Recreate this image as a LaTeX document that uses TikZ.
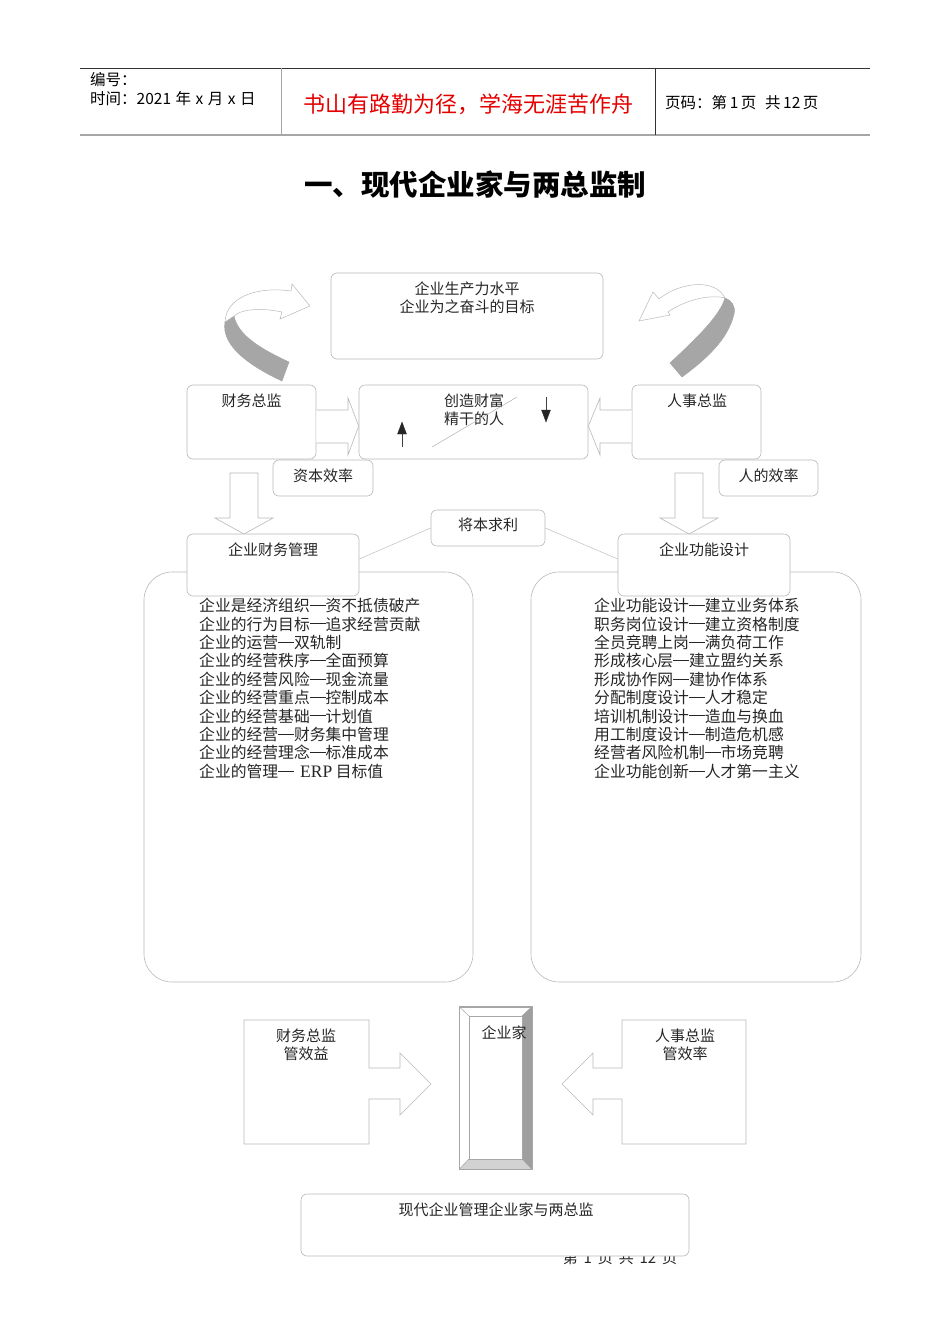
\documentclass[tikz,border=0pt]{standalone}
\usepackage{fontspec}
\usetikzlibrary{arrows.meta}
\setmainfont{Noto Sans CJK SC}
\newfontfamily\serifen{Liberation Serif}
\newcommand\fdash{\rule[0.36em]{1em}{0.06em}}
\newcommand\hsp{\hspace{4.5pt}}
\begin{document}
\begin{tikzpicture}[x=1pt,y=-1pt,
  rbox/.style={draw=gray!55, rounded corners=6pt, fill=white, line width=0.6pt, inner sep=0pt},
  blockarrow/.style={draw=gray!55, fill=white, line width=0.6pt, line join=miter},
  txt/.style={inner sep=0pt, font=\fontsize{15}{18}\selectfont, text=black!85},
  hdr/.style={inner sep=0pt, font=\fontsize{15.5}{18}\selectfont, text=black},
  lst/.style={inner sep=0pt, align=left, anchor=north west, font=\fontsize{15.8}{18.4}\selectfont, text=black!85},
  thinline/.style={draw=gray!50, line width=0.5pt},
  tip/.style={fill=black!85, draw=black!85, line width=0.3pt, line join=miter}
]
\useasboundingbox (0,0) rectangle (950,1344);
\fill[white] (0,0) rectangle (950,1344);

% ---------- header ----------
\coordinate (htl) at (80,68);
\coordinate (htr) at (870,68);
\coordinate (hbl) at (80,135);
\coordinate (hbr) at (870,135);
\draw[line width=0.8pt, black!80] (htl) -- (htr);
\draw[line width=1.8pt, gray!70] (hbl) -- (hbr);
\draw[line width=0.8pt, gray!70] (281,68) -- (281,135);
\draw[line width=0.8pt, black!80] (655,68) -- (655,135);
\node[hdr, anchor=west] (hno) at (90,80) {编号：};
\node[hdr, anchor=west] (htime) at (90,99) {时间：2021\hsp 年\hsp x\hsp 月\hsp x\hsp 日};
\node[inner sep=0pt, font=\fontsize{22}{24}\selectfont, text=red!90!black] (motto) at (468,104) {书山有路勤为径，学海无涯苦作舟};
\node[hdr, anchor=west] (hpage) at (665,103) {页码：第\,1\,页\,\, 共\,12\,页};

% ---------- title ----------
\node[inner sep=0pt, font=\bfseries\fontsize{28.5}{32}\selectfont] (title) at (475,185) {一、现代企业家与两总监制};

% ---------- curved arrows ----------
% left
\draw[draw=gray!70, fill=gray!70, line width=0.5pt] (225,322) .. controls (221,346) and (250,366) .. (282,381) -- (289,362) .. controls (263,350) and (238,336) .. (234,316) -- cycle;
\draw[draw=gray!55, fill=white, line width=0.5pt] (225,322) .. controls (226,298) and (255,286) .. (291,291) -- (292,284) -- (310,306) -- (280,319) -- (282,312) .. controls (258,307) and (240,310) .. (234,316) -- cycle;
% right
\draw[draw=gray!70, fill=gray!70, line width=0.5pt] (670,363) .. controls (700,335) and (720,315) .. (725,298) .. controls (731,300) and (736,306) .. (734,314) .. controls (728,340) and (705,360) .. (682,377) -- cycle;
\draw[draw=gray!55, fill=white, line width=0.5pt] (725,298) .. controls (715,278) and (680,282) .. (659,299) -- (653,292) -- (639,321) -- (670,315) -- (668,312) .. controls (685,300) and (710,294) .. (725,298) -- cycle;

% ---------- top boxes ----------
\node[rbox, minimum width=272pt, minimum height=86pt] (goal) at (467,316) {};
\node[txt, align=center] (goalt) at (467,298) {企业生产力水平\\企业为之奋斗的目标};

\node[rbox, minimum width=129pt, minimum height=74pt] (cfo) at (251.5,422) {};
\node[txt] (cfot) at (251.5,401) {财务总监};

\node[rbox, minimum width=229pt, minimum height=74pt] (wealth) at (473.5,422) {};
\node[txt, align=center] (wealtht) at (474,410) {创造财富\\精干的人};

\node[rbox, minimum width=129pt, minimum height=74pt] (hr) at (696.5,422) {};
\node[txt] (hrt) at (697,401) {人事总监};

% inner marks in wealth box
\draw[gray!60, line width=0.5pt] (432,447) -- (517,397);
\draw[black!75, line width=0.5pt] (402,447) -- (402,433);
\draw[tip] (397.5,434) -- (406.5,434) -- (402,422) -- cycle;
\draw[black!75, line width=0.5pt] (546,397) -- (546,411);
\draw[tip] (541.5,410) -- (550.5,410) -- (546,422) -- cycle;

% block arrows to wealth box
\draw[blockarrow] (cfo.east |- 0,410) -- (348,410) -- (348,398) -- (wealth.west |- 0,426) -- (348,455) -- (348,443) -- (cfo.east |- 0,443);
\draw[blockarrow] (hr.west |- 0,410) -- (600,410) -- (600,398) -- (wealth.east |- 0,426) -- (600,455) -- (600,443) -- (hr.west |- 0,443);

% efficiency labels
\node[rbox, minimum width=100pt, minimum height=36pt] (capeff) at (323,478) {};
\node[txt] (capefft) at (323,476) {资本效率};
\node[rbox, minimum width=99pt, minimum height=36pt] (hreff) at (768.5,478) {};
\node[txt] (hrefft) at (768.5,476) {人的效率};

% ---------- big list boxes ----------
\node[draw=gray!55, fill=white, line width=0.6pt, rounded corners=28pt, minimum width=329pt, minimum height=410pt, inner sep=0pt] (finlist) at (308.5,777) {};
\node[draw=gray!55, fill=white, line width=0.6pt, rounded corners=28pt, minimum width=330pt, minimum height=410pt, inner sep=0pt] (hrlist) at (696,777) {};

% down block arrows
\draw[blockarrow] (230,473) -- (258,473) -- (258,518) -- (273,518) -- (244,534) -- (215,518) -- (230,518) -- cycle;
\draw[blockarrow] (675,473) -- (703,473) -- (703,518) -- (718,518) -- (689,534) -- (660,518) -- (675,518) -- cycle;

% management boxes
\node[rbox, minimum width=172pt, minimum height=62pt] (finmgmt) at (273,565) {};
\node[txt] (finmgmtt) at (273,550) {企业财务管理};
\node[rbox, minimum width=172pt, minimum height=62pt] (funcdes) at (704,565) {};
\node[txt] (funcdest) at (704,550) {企业功能设计};

\node[rbox, minimum width=114pt, minimum height=36pt] (profit) at (488,528) {};
\node[txt] (profitt) at (488,525) {将本求利};
\draw[thinline] (finmgmt.east |- 0,559) -- (profit.west);
\draw[thinline] (profit.east) -- (funcdes.west |- 0,559);

% lists
\node[lst] (finitems) at (199,598) {企业是经济组织\fdash 资不抵债破产\\企业的行为目标\fdash 追求经营贡献\\企业的运营\fdash 双轨制\\企业的经营秩序\fdash 全面预算\\企业的经营风险\fdash 现金流量\\企业的经营重点\fdash 控制成本\\企业的经营基础\fdash 计划值\\企业的经营\fdash 财务集中管理\\企业的经营理念\fdash 标准成本\\企业的管理\fdash\, {\serifen\fontsize{17.5}{18}\selectfont ERP} 目标值};
\node[lst] (hritems) at (594,598) {企业功能设计\fdash 建立业务体系\\职务岗位设计\fdash 建立资格制度\\全员竞聘上岗\fdash 满负荷工作\\形成核心层\fdash 建立盟约关系\\形成协作网\fdash 建协作体系\\分配制度设计\fdash 人才稳定\\培训机制设计\fdash 造血与换血\\用工制度设计\fdash 制造危机感\\经营者风险机制\fdash 市场竞聘\\企业功能创新\fdash 人才第一主义};

% ---------- bottom section ----------
\node[draw=gray!70, fill=white, line width=0.6pt, minimum width=72pt, minimum height=162pt, inner sep=0pt] (ent) at (495.5,1088) {};
\coordinate (ei1) at (469,1016);
\coordinate (ei2) at (522,1016);
\coordinate (ei3) at (522,1159);
\coordinate (ei4) at (469,1159);
\fill[gray!75] (ent.north east) -- (ent.south east) -- (ei3) -- (ei2) -- cycle;
\fill[gray!35] (ent.south west) -- (ent.south east) -- (ei3) -- (ei4) -- cycle;
\draw[gray!70, line width=0.5pt] (ei1) -- (ei2) -- (ei3) -- (ei4) -- cycle;
\draw[gray!70, line width=0.5pt] (ei1) -- (ent.north west) (ei2) -- (ent.north east) (ei3) -- (ent.south east) (ei4) -- (ent.south west);
\draw[gray!70, line width=0.6pt] (ent.north west) rectangle (ent.south east);
\node[txt] (entt) at (504,1033) {企业家};

\coordinate (fa) at (244,1020);
\draw[blockarrow] (fa) -- (369,1020) -- (369,1068) -- (400,1068) -- (400,1053) -- (431,1084) -- (400,1115) -- (400,1099) -- (369,1099) -- (369,1144) -- (244,1144) -- cycle;
\node[txt, align=center] (fat) at (306,1045) {财务总监\\管效益};

\coordinate (ha) at (746,1020);
\draw[blockarrow] (ha) -- (622,1020) -- (622,1068) -- (593,1068) -- (593,1053) -- (562,1084) -- (593,1115) -- (593,1099) -- (622,1099) -- (622,1144) -- (746,1144) -- cycle;
\node[txt, align=center] (hat) at (685,1045) {人事总监\\管效率};

% footer text (partly hidden by the box)
\node[inner sep=0pt, font=\fontsize{15}{18}\selectfont, text=black!85] (footer) at (620,1258) {第\, 1\, 页\, 共\, 12\, 页};
\node[rbox, minimum width=388pt, minimum height=62pt] (summary) at (495,1225) {};
\node[txt] (summaryt) at (496,1210) {现代企业管理企业家与两总监};
\end{tikzpicture}
\end{document}
